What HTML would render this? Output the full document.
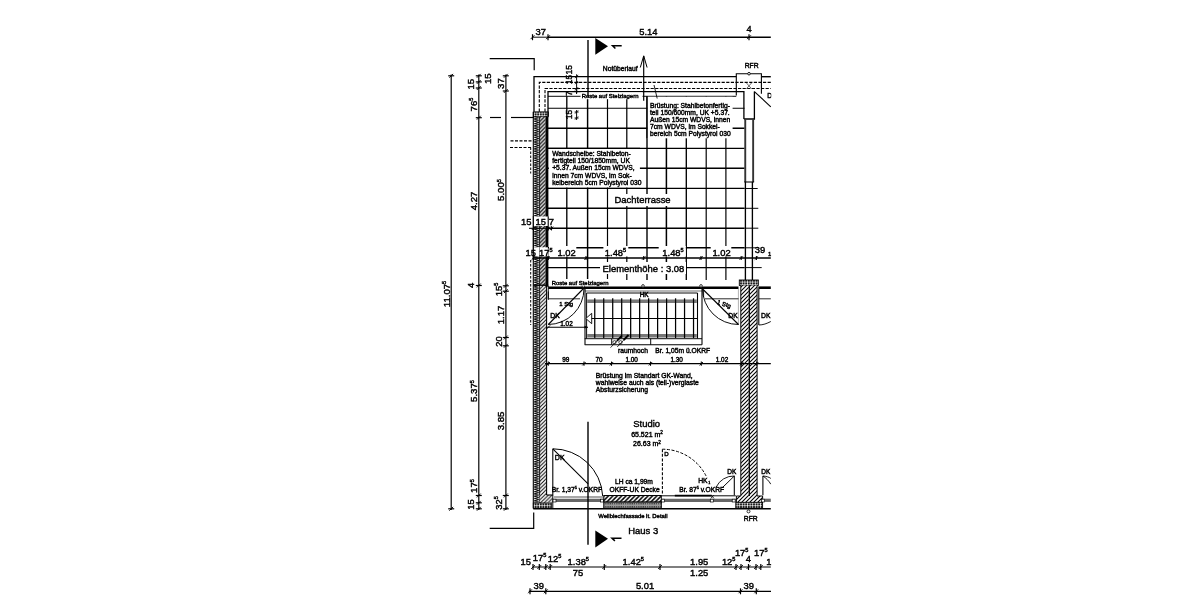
<!DOCTYPE html>
<html><head><meta charset="utf-8"><title>Grundriss</title>
<style>
html,body{margin:0;padding:0;background:#fff;}
body{width:1200px;height:600px;overflow:hidden;}
svg{display:block;font-family:"Liberation Sans",sans-serif;fill:#000;}
text{stroke:#000;stroke-width:0.42px;}
</style></head><body>
<svg width="1200" height="600" viewBox="0 0 1200 600">
<defs>
<pattern id="hat" width="3.8" height="3.8" patternUnits="userSpaceOnUse"><rect width="3.8" height="3.8" fill="#fff"/><path d="M-0.95,0.95L0.95,-0.95M0,3.8L3.8,0M2.85,4.75L4.75,2.85" stroke="#000" stroke-width="1.3"/></pattern>
<pattern id="hatL" width="3.7" height="3.7" patternUnits="userSpaceOnUse"><rect width="3.7" height="3.7" fill="#fff"/><path d="M-0.925,0.925L0.925,-0.925M0,3.7L3.7,0M2.775,4.625L4.625,2.775" stroke="#000" stroke-width="0.95"/></pattern>
<pattern id="hatB" width="4.4" height="4.4" patternUnits="userSpaceOnUse"><rect width="4.4" height="4.4" fill="#fff"/><path d="M-1.1,1.1L1.1,-1.1M0,4.4L4.4,0M3.3,5.5L5.5,3.3" stroke="#000" stroke-width="1.5"/></pattern>
<pattern id="hat2" width="4" height="4" patternUnits="userSpaceOnUse"><rect width="4" height="4" fill="#fff"/><path d="M-1,1L1,-1M0,4L4,0M3,5L5,3" stroke="#000" stroke-width="1.1"/></pattern>
<pattern id="ins" x="533.3" y="116.7" width="6.3" height="2.3" patternUnits="userSpaceOnUse"><rect width="6.3" height="2.3" fill="#fff"/><path d="M0.3,0L6,1.15L0.3,2.3" stroke="#000" stroke-width="0.86" fill="none"/></pattern>
<pattern id="xh" width="2.6" height="2.6" patternUnits="userSpaceOnUse"><rect width="2.6" height="2.6" fill="#000"/><path d="M1.3,0.05L2.55,1.3L1.3,2.55L0.05,1.3Z" fill="#fff"/></pattern>
<pattern id="corr" width="2.2" height="3.1" patternUnits="userSpaceOnUse"><rect width="2.2" height="3.1" fill="#9a9a9a"/><rect x="0.3" y="0.9" width="1.1" height="1.2" fill="#222"/></pattern>
<filter id="soft" x="0" y="0" width="100%" height="100%" filterUnits="userSpaceOnUse"><feGaussianBlur stdDeviation="0.35"/></filter>
</defs>
<rect width="1200" height="600" fill="#fff"/>
<g filter="url(#soft)">
<g>
<rect x="533.3" y="111.9" width="15" height="4.8" fill="url(#xh)" stroke="#000" stroke-width="0.9"/>
<rect x="533.3" y="116.7" width="6.3" height="386" fill="url(#ins)"/>
<rect x="539.6" y="116.7" width="6" height="169" fill="url(#hat)"/>
<rect x="539.6" y="286" width="7" height="217" fill="url(#hatL)"/>
<rect x="545.5" y="116.7" width="2.9" height="170" fill="#000"/>
<line x1="533.3" y1="111.9" x2="533.3" y2="508.3" stroke="#000" stroke-width="1.08" />
<line x1="539.6" y1="116.7" x2="539.6" y2="503" stroke="#000" stroke-width="0.864" />
<line x1="546.6" y1="286" x2="546.6" y2="495.3" stroke="#000" stroke-width="1.08" />
<line x1="548.3" y1="286" x2="548.3" y2="300" stroke="#000" stroke-width="0.864" />
<line x1="533.3" y1="285.2" x2="548.3" y2="285.2" stroke="#000" stroke-width="1.296" />
<line x1="548.3" y1="287.7" x2="738.5" y2="287.7" stroke="#000" stroke-width="2.592" />
<line x1="758.3" y1="287.7" x2="770.8" y2="287.7" stroke="#000" stroke-width="2.592" />
<circle cx="583.3" cy="285.9" r="1.3" fill="#fff" stroke="#000" stroke-width="0.8"/>
<circle cx="643" cy="285.9" r="1.3" fill="#fff" stroke="#000" stroke-width="0.8"/>
<circle cx="701" cy="285.9" r="1.3" fill="#fff" stroke="#000" stroke-width="0.8"/>
<rect x="739.3" y="280" width="19" height="5.4" fill="url(#xh)" stroke="#000" stroke-width="0.9"/>
<rect x="740.8" y="285.4" width="8" height="217" fill="url(#hat2)"/>
<rect x="749.9" y="285.4" width="7.2" height="217" fill="url(#hat2)"/>
<line x1="740.8" y1="285.4" x2="740.8" y2="496" stroke="#000" stroke-width="0.972" />
<line x1="757.1" y1="285.4" x2="757.1" y2="496" stroke="#000" stroke-width="0.972" />
<line x1="749.3" y1="285.4" x2="749.3" y2="502" stroke="#000" stroke-width="1.296" />
<line x1="738.4" y1="288.8" x2="738.4" y2="325" stroke="#888" stroke-width="0.648" />
<line x1="758.8" y1="288.8" x2="758.8" y2="325" stroke="#888" stroke-width="0.648" />
<rect x="539.6" y="495" width="13" height="7.6" fill="url(#hatL)"/>
<rect x="533.3" y="503" width="18" height="5.3" fill="url(#xh)" stroke="#000" stroke-width="0.9"/>
<line x1="546.6" y1="495" x2="552.8" y2="495" stroke="#000" stroke-width="1.08" />
<line x1="552.8" y1="495" x2="552.8" y2="508.5" stroke="#000" stroke-width="0.972" />
<line x1="554" y1="497" x2="603" y2="497" stroke="#333" stroke-width="0.864" />
<line x1="553" y1="500.3" x2="604" y2="500.3" stroke="#666" stroke-width="3.348" />
<rect x="553" y="499.2" width="3" height="2.8" fill="#fff" stroke="#000" stroke-width="0.7"/>
<rect x="600.4" y="499.2" width="3" height="2.8" fill="#fff" stroke="#000" stroke-width="0.7"/>
<rect x="603.8" y="495.5" width="57.5" height="6.6" fill="url(#hatB)" stroke="#000" stroke-width="1"/>
<rect x="603.8" y="502.1" width="57.5" height="6.2" fill="url(#corr)" stroke="#000" stroke-width="1"/>
<line x1="661.5" y1="495.8" x2="735.8" y2="495.8" stroke="#000" stroke-width="0.972" />
<line x1="674.8" y1="495.6" x2="711.7" y2="495.6" stroke="#000" stroke-width="1.728" />
<line x1="661.5" y1="500.3" x2="735.8" y2="500.3" stroke="#666" stroke-width="3.24" />
<rect x="661.5" y="499.2" width="3" height="2.8" fill="#fff" stroke="#000" stroke-width="0.7"/>
<rect x="710.3" y="499.2" width="3" height="2.8" fill="#fff" stroke="#000" stroke-width="0.7"/>
<rect x="732.2" y="499.2" width="3" height="2.8" fill="#fff" stroke="#000" stroke-width="0.7"/>
<path d="M710.8,498.3L714.0,495.09999999999997" stroke="#000" stroke-width="0.8" fill="none"/>
<path d="M710.8,495.1L714,498.3" stroke="#000" stroke-width="0.8"/>
<rect x="736.4" y="496" width="26.2" height="6.3" fill="url(#hat2)"/>
<rect x="735.8" y="502.3" width="26.8" height="6" fill="url(#xh)" stroke="#000" stroke-width="0.9"/>
<line x1="736.4" y1="496" x2="736.4" y2="502.3" stroke="#000" stroke-width="0.972" />
<line x1="762.6" y1="496" x2="762.6" y2="502.3" stroke="#000" stroke-width="0.972" />
<line x1="736.4" y1="496" x2="740.8" y2="496" stroke="#000" stroke-width="0.972" />
<line x1="757.1" y1="496" x2="762.6" y2="496" stroke="#000" stroke-width="0.972" />
<line x1="762.5" y1="500.3" x2="770.8" y2="500.3" stroke="#666" stroke-width="3.24" />
<rect x="761.5" y="499.2" width="3" height="2.8" fill="#fff" stroke="#000" stroke-width="0.7"/>
<line x1="533.3" y1="508.8" x2="770.8" y2="508.8" stroke="#000" stroke-width="1.404" />
<circle cx="748.5" cy="511.4" r="1.5" fill="#fff" stroke="#000" stroke-width="0.8"/>
<text x="750.8" y="521" font-size="6.8" text-anchor="middle" font-weight="normal" >RFR</text>
<text x="598.3" y="517.8" font-size="5.92" text-anchor="start" font-weight="normal" >Wellblechfassade lt. Detail</text>
<text x="628.3" y="534.3" font-size="9.45" text-anchor="start" font-weight="normal" >Haus 3</text>
<line x1="585" y1="291" x2="702" y2="291" stroke="#555" stroke-width="0.864" />
<line x1="586.5" y1="293" x2="697.5" y2="293" stroke="#000" stroke-width="0.972" />
<line x1="585" y1="289" x2="585" y2="344.8" stroke="#000" stroke-width="1.08" />
<line x1="586.6" y1="293" x2="586.6" y2="338.5" stroke="#000" stroke-width="0.972" />
<line x1="587.2" y1="301.2" x2="696.8" y2="301.2" stroke="#777" stroke-width="3.456" />
<line x1="587.2" y1="335.8" x2="696.8" y2="335.8" stroke="#777" stroke-width="3.456" />
<line x1="587" y1="318.5" x2="697.5" y2="318.5" stroke="#000" stroke-width="1.08" />
<line x1="594.75" y1="298.3" x2="594.75" y2="338" stroke="#000" stroke-width="1.242" />
<line x1="603.73" y1="298.3" x2="603.73" y2="338" stroke="#000" stroke-width="1.242" />
<line x1="612.71" y1="298.3" x2="612.71" y2="338" stroke="#000" stroke-width="1.242" />
<line x1="621.69" y1="298.3" x2="621.69" y2="338" stroke="#000" stroke-width="1.242" />
<line x1="630.67" y1="298.3" x2="630.67" y2="338" stroke="#000" stroke-width="1.242" />
<line x1="639.65" y1="298.3" x2="639.65" y2="338" stroke="#000" stroke-width="1.242" />
<line x1="648.63" y1="298.3" x2="648.63" y2="338" stroke="#000" stroke-width="1.242" />
<line x1="657.61" y1="298.3" x2="657.61" y2="338" stroke="#000" stroke-width="1.242" />
<line x1="666.59" y1="298.3" x2="666.59" y2="338" stroke="#000" stroke-width="1.242" />
<line x1="675.57" y1="298.3" x2="675.57" y2="338" stroke="#000" stroke-width="1.242" />
<line x1="684.55" y1="298.3" x2="684.55" y2="338" stroke="#000" stroke-width="1.242" />
<line x1="693.53" y1="298.3" x2="693.53" y2="338" stroke="#000" stroke-width="1.242" />
<line x1="697.5" y1="293" x2="697.5" y2="338.5" stroke="#000" stroke-width="1.08" />
<line x1="702" y1="289" x2="702" y2="344.8" stroke="#000" stroke-width="1.08" />
<line x1="584.7" y1="344.8" x2="702" y2="344.8" stroke="#000" stroke-width="1.08" />
<line x1="584.7" y1="338.7" x2="702" y2="338.7" stroke="#000" stroke-width="0.972" />
<line x1="611.7" y1="338.7" x2="611.7" y2="344.8" stroke="#000" stroke-width="0.972" />
<line x1="650.7" y1="338.7" x2="650.7" y2="344.8" stroke="#000" stroke-width="0.972" />
<path d="M585.8,318.5L591.7,313.3V323.7Z" fill="#fff" stroke="#000" stroke-width="0.9"/>
<circle cx="614.5" cy="342.3" r="1.7" fill="#fff" stroke="#000" stroke-width="0.7"/>
<circle cx="620.5" cy="342.3" r="1.7" fill="#fff" stroke="#000" stroke-width="0.7"/>
<line x1="610.5" y1="347.7" x2="621.7" y2="335.8" stroke="#000" stroke-width="0.756" />
<line x1="617.2" y1="347" x2="628.5" y2="335" stroke="#000" stroke-width="0.756" />
<line x1="617" y1="340.8" x2="621.7" y2="335.8" stroke="#000" stroke-width="1.836" />
<line x1="623.7" y1="340" x2="628.5" y2="335" stroke="#000" stroke-width="1.836" />
<text x="644.2" y="296.8" font-size="6.5" text-anchor="middle" font-weight="normal" >HK</text>
<line x1="548.3" y1="291.5" x2="548.3" y2="299" stroke="#000" stroke-width="0.972" />
<line x1="548.3" y1="298.8" x2="580" y2="298.8" stroke="#222" stroke-width="0.972" />
<line x1="583.5" y1="288.5" x2="548.3" y2="324.5" stroke="#000" stroke-width="1.08" />
<path d="M584,288.5A36,36 0 0 1 548.2,324.5" stroke="#000" stroke-width="0.95" fill="none"/>
<text x="566.2" y="306" font-size="6" text-anchor="middle" font-weight="normal" >1 Stg</text>
<text x="555" y="318" font-size="6.8" text-anchor="middle" font-weight="normal" >DK</text>
<text x="566.5" y="325.6" font-size="6.4" text-anchor="middle" font-weight="normal" >1.02</text>
<line x1="546" y1="327.2" x2="588" y2="327.2" stroke="#000" stroke-width="1.08" />
<path d="M546.5,329.0L550.0999999999999,325.4" stroke="#000" stroke-width="0.95" fill="none"/>
<path d="M588,327.2L584.5,325.8V328.6Z" fill="#000"/>
<line x1="705" y1="298.8" x2="738.5" y2="298.8" stroke="#222" stroke-width="0.972" />
<line x1="703.6" y1="290" x2="703.6" y2="297" stroke="#000" stroke-width="0.864" />
<line x1="702.6" y1="289" x2="738.5" y2="324.5" stroke="#000" stroke-width="1.08" />
<path d="M702.5,288.5A36,36 0 0 0 738.5,324.5" stroke="#000" stroke-width="0.95" fill="none"/>
<text x="723.5" y="306" font-size="6" text-anchor="middle" font-weight="normal" transform="rotate(18 723.5 306)" >1 Stg</text>
<text x="733" y="318" font-size="6.8" text-anchor="middle" font-weight="normal" >DK</text>
<line x1="758.8" y1="289" x2="758.8" y2="325" stroke="#000" stroke-width="0.972" />
<line x1="758.8" y1="298.8" x2="770.8" y2="298.8" stroke="#222" stroke-width="0.972" />
<path d="M758.8,325C763,325 767,323.5 770.8,321.5" stroke="#000" stroke-width="0.9" fill="none"/>
<text x="765.8" y="318" font-size="6.8" text-anchor="middle" font-weight="normal" >DK</text>
<line x1="545" y1="363.7" x2="770.8" y2="363.7" stroke="#000" stroke-width="1.242" />
<path d="M546.5999999999999,365.4L550.0,362.0" stroke="#000" stroke-width="0.9" fill="none"/>
<line x1="548.3" y1="361.59999999999997" x2="548.3" y2="365.8" stroke="#000" stroke-width="1.08" />
<path d="M582.3,365.4L585.7,362.0" stroke="#000" stroke-width="0.9" fill="none"/>
<line x1="584" y1="361.59999999999997" x2="584" y2="365.8" stroke="#000" stroke-width="1.08" />
<path d="M609.8,365.4L613.2,362.0" stroke="#000" stroke-width="0.9" fill="none"/>
<line x1="611.5" y1="361.59999999999997" x2="611.5" y2="365.8" stroke="#000" stroke-width="1.08" />
<path d="M648.8,365.4L652.2,362.0" stroke="#000" stroke-width="0.9" fill="none"/>
<line x1="650.5" y1="361.59999999999997" x2="650.5" y2="365.8" stroke="#000" stroke-width="1.08" />
<path d="M699.5999999999999,365.4L703.0,362.0" stroke="#000" stroke-width="0.9" fill="none"/>
<line x1="701.3" y1="361.59999999999997" x2="701.3" y2="365.8" stroke="#000" stroke-width="1.08" />
<path d="M740.0,365.4L743.4000000000001,362.0" stroke="#000" stroke-width="0.9" fill="none"/>
<line x1="741.7" y1="361.59999999999997" x2="741.7" y2="365.8" stroke="#000" stroke-width="1.08" />
<path d="M755.0,365.4L758.4000000000001,362.0" stroke="#000" stroke-width="0.9" fill="none"/>
<line x1="756.7" y1="361.59999999999997" x2="756.7" y2="365.8" stroke="#000" stroke-width="1.08" />
<text x="565.8" y="361.7" font-size="6.4" text-anchor="middle" font-weight="normal" >99</text>
<text x="599" y="361.7" font-size="6.4" text-anchor="middle" font-weight="normal" >70</text>
<text x="631.7" y="361.7" font-size="6.4" text-anchor="middle" font-weight="normal" >1.00</text>
<text x="676.7" y="361.7" font-size="6.4" text-anchor="middle" font-weight="normal" >1.30</text>
<text x="722" y="361.7" font-size="6.4" text-anchor="middle" font-weight="normal" >1.02</text>
<text x="618" y="353" font-size="6.72" text-anchor="start" font-weight="normal" >raumhoch</text>
<text x="655.3" y="353" font-size="6.72" text-anchor="start" font-weight="normal" >Br. 1,05m ü.OKRF</text>
<text x="595.8" y="378.0" font-size="6.77" text-anchor="start" font-weight="normal" >Brüstung im Standart GK-Wand,</text>
<text x="595.8" y="385.2" font-size="6.77" text-anchor="start" font-weight="normal" >wahlweise auch als (teil-)verglaste</text>
<text x="595.8" y="392.4" font-size="6.77" text-anchor="start" font-weight="normal" >Absturzsicherung</text>
<text x="646.7" y="427.2" font-size="9.45" text-anchor="middle" font-weight="normal" >Studio</text>
<text x="647" y="436.8" font-size="7" text-anchor="middle" font-weight="normal" >65.521 m<tspan dy="-2.6" font-size="4.6">2</tspan></text>
<text x="647" y="446.3" font-size="7" text-anchor="middle" font-weight="normal" >26.63 m<tspan dy="-2.6" font-size="4.6">2</tspan></text>
<line x1="552.8" y1="448.8" x2="552.8" y2="495.3" stroke="#000" stroke-width="1.08" />
<line x1="552.8" y1="448.8" x2="588.1" y2="483.8" stroke="#000" stroke-width="1.08" />
<path d="M552.8,448.8A50,50 0 0 1 602.7,496" stroke="#000" stroke-width="1" fill="none"/>
<text x="559.7" y="460" font-size="7" text-anchor="middle" font-weight="normal" >DK</text>
<text x="551.7" y="491.5" font-size="6.7" text-anchor="start" font-weight="normal" >Br. 1,37<tspan dy="-2.4" font-size="4">5</tspan><tspan dy="2.4"> v.OKRF</tspan></text>
<text x="615" y="484" font-size="6.7" text-anchor="start" font-weight="normal" >LH ca 1,99m</text>
<text x="609.5" y="491.8" font-size="6.7" text-anchor="start" font-weight="normal" >OKFF-UK Decke</text>
<line x1="662.4" y1="449.2" x2="662.4" y2="495.3" stroke="#000" stroke-width="1.08" stroke-dasharray="3 1.6"/>
<path d="M662.4,449.2A49,49 0 0 1 706.6,477" stroke="#000" stroke-width="1" fill="none" stroke-dasharray="3 1.6"/>
<text x="664.2" y="456.4" font-size="6.1" text-anchor="start" font-weight="normal" >D</text>
<text x="698.2" y="482.5" font-size="6.8" text-anchor="start" font-weight="normal" >HK</text>
<text x="708.3" y="484.3" font-size="3.8" text-anchor="start" font-weight="normal" >1</text>
<text x="679.2" y="491.8" font-size="6.7" text-anchor="start" font-weight="normal" >Br. 87<tspan dy="-2.4" font-size="4">5</tspan><tspan dy="2.4"> v.OKRF</tspan></text>
<line x1="734.3" y1="476" x2="734.3" y2="495.3" stroke="#000" stroke-width="1.08" />
<line x1="734.3" y1="476" x2="722" y2="488" stroke="#000" stroke-width="0.972" />
<path d="M734.3,476A19.5,19.5 0 0 0 716.2,487" stroke="#000" stroke-width="0.9" fill="none"/>
<text x="731.8" y="473.8" font-size="6.5" text-anchor="middle" font-weight="normal" >DK</text>
<line x1="762.9" y1="476" x2="762.9" y2="495.3" stroke="#000" stroke-width="1.08" />
<path d="M762.9,476C766,476.2 769,477 770.8,478.4" stroke="#000" stroke-width="0.9" fill="none"/>
<path d="M762.9,476C766,478 769,481 770.8,484.2" stroke="#000" stroke-width="0.9" fill="none"/>
<text x="765.8" y="474" font-size="6.5" text-anchor="middle" font-weight="normal" >DK</text>
</g>
<g>
<line x1="451.2" y1="74.5" x2="451.2" y2="510" stroke="#000" stroke-width="1.188" />
<path d="M449.3,77.7L453.09999999999997,73.89999999999999" stroke="#000" stroke-width="0.95" fill="none"/>
<line x1="448.2" y1="75.8" x2="454.2" y2="75.8" stroke="#000" stroke-width="1.188" />
<path d="M449.3,510.7L453.09999999999997,506.90000000000003" stroke="#000" stroke-width="0.95" fill="none"/>
<line x1="448.2" y1="508.8" x2="454.2" y2="508.8" stroke="#000" stroke-width="1.188" />
<text x="449.59999999999997" y="294" font-size="9.6" text-anchor="middle" font-weight="normal" transform="rotate(-90 449.59999999999997 294)" >11.07<tspan dy="-3.6" font-size="5.6">5</tspan></text>
<line x1="478.8" y1="74.5" x2="478.8" y2="510" stroke="#000" stroke-width="1.188" />
<path d="M476.90000000000003,77.7L480.7,73.89999999999999" stroke="#000" stroke-width="0.95" fill="none"/>
<line x1="475.8" y1="75.8" x2="481.8" y2="75.8" stroke="#000" stroke-width="1.188" />
<path d="M476.90000000000003,83.80000000000001L480.7,80.0" stroke="#000" stroke-width="0.95" fill="none"/>
<line x1="475.8" y1="81.9" x2="481.8" y2="81.9" stroke="#000" stroke-width="1.188" />
<path d="M476.90000000000003,89.9L480.7,86.1" stroke="#000" stroke-width="0.95" fill="none"/>
<line x1="475.8" y1="88" x2="481.8" y2="88" stroke="#000" stroke-width="1.188" />
<path d="M476.90000000000003,119.60000000000001L480.7,115.8" stroke="#000" stroke-width="0.95" fill="none"/>
<line x1="475.8" y1="117.7" x2="481.8" y2="117.7" stroke="#000" stroke-width="1.188" />
<path d="M476.90000000000003,287.4L480.7,283.6" stroke="#000" stroke-width="0.95" fill="none"/>
<line x1="475.8" y1="285.5" x2="481.8" y2="285.5" stroke="#000" stroke-width="1.188" />
<path d="M476.90000000000003,497.4L480.7,493.6" stroke="#000" stroke-width="0.95" fill="none"/>
<line x1="475.8" y1="495.5" x2="481.8" y2="495.5" stroke="#000" stroke-width="1.188" />
<path d="M476.90000000000003,504.7L480.7,500.90000000000003" stroke="#000" stroke-width="0.95" fill="none"/>
<line x1="475.8" y1="502.8" x2="481.8" y2="502.8" stroke="#000" stroke-width="1.188" />
<path d="M476.90000000000003,510.7L480.7,506.90000000000003" stroke="#000" stroke-width="0.95" fill="none"/>
<line x1="475.8" y1="508.8" x2="481.8" y2="508.8" stroke="#000" stroke-width="1.188" />
<text x="474" y="84.2" font-size="9.6" text-anchor="middle" font-weight="normal" transform="rotate(-90 474 84.2)" >15</text>
<text x="490.8" y="78.7" font-size="9.6" text-anchor="middle" font-weight="normal" transform="rotate(-90 490.8 78.7)" >15</text>
<text x="476.8" y="104.5" font-size="9.6" text-anchor="middle" font-weight="normal" transform="rotate(-90 476.8 104.5)" >76<tspan dy="-3.6" font-size="5.6">5</tspan></text>
<text x="477.2" y="201" font-size="9.6" text-anchor="middle" font-weight="normal" transform="rotate(-90 477.2 201)" >4.27</text>
<text x="474" y="285.5" font-size="9.4" text-anchor="middle" font-weight="normal" transform="rotate(-90 474 285.5)" >4</text>
<text x="477.2" y="391" font-size="9.6" text-anchor="middle" font-weight="normal" transform="rotate(-90 477.2 391)" >5.37<tspan dy="-3.6" font-size="5.6">5</tspan></text>
<text x="477.2" y="486" font-size="9.6" text-anchor="middle" font-weight="normal" transform="rotate(-90 477.2 486)" >17<tspan dy="-3.6" font-size="5.6">5</tspan></text>
<text x="474" y="504.5" font-size="9.4" text-anchor="middle" font-weight="normal" transform="rotate(-90 474 504.5)" >15</text>
<line x1="505.9" y1="74.5" x2="505.9" y2="510" stroke="#000" stroke-width="1.188" />
<path d="M503.90000000000003,77.7L507.7,73.89999999999999" stroke="#000" stroke-width="0.95" fill="none"/>
<line x1="502.8" y1="75.8" x2="508.8" y2="75.8" stroke="#000" stroke-width="1.188" />
<path d="M503.90000000000003,92.9L507.7,89.1" stroke="#000" stroke-width="0.95" fill="none"/>
<line x1="502.8" y1="91" x2="508.8" y2="91" stroke="#000" stroke-width="1.188" />
<path d="M503.90000000000003,287.7L507.7,283.90000000000003" stroke="#000" stroke-width="0.95" fill="none"/>
<line x1="502.8" y1="285.8" x2="508.8" y2="285.8" stroke="#000" stroke-width="1.188" />
<path d="M503.90000000000003,293.09999999999997L507.7,289.3" stroke="#000" stroke-width="0.95" fill="none"/>
<line x1="502.8" y1="291.2" x2="508.8" y2="291.2" stroke="#000" stroke-width="1.188" />
<path d="M503.90000000000003,339.4L507.7,335.6" stroke="#000" stroke-width="0.95" fill="none"/>
<line x1="502.8" y1="337.5" x2="508.8" y2="337.5" stroke="#000" stroke-width="1.188" />
<path d="M503.90000000000003,347.7L507.7,343.90000000000003" stroke="#000" stroke-width="0.95" fill="none"/>
<line x1="502.8" y1="345.8" x2="508.8" y2="345.8" stroke="#000" stroke-width="1.188" />
<path d="M503.90000000000003,497.4L507.7,493.6" stroke="#000" stroke-width="0.95" fill="none"/>
<line x1="502.8" y1="495.5" x2="508.8" y2="495.5" stroke="#000" stroke-width="1.188" />
<path d="M503.90000000000003,510.7L507.7,506.90000000000003" stroke="#000" stroke-width="0.95" fill="none"/>
<line x1="502.8" y1="508.8" x2="508.8" y2="508.8" stroke="#000" stroke-width="1.188" />
<text x="504.3" y="83.6" font-size="9.6" text-anchor="middle" font-weight="normal" transform="rotate(-90 504.3 83.6)" >37</text>
<text x="504.2" y="190" font-size="9.6" text-anchor="middle" font-weight="normal" transform="rotate(-90 504.2 190)" >5.00<tspan dy="-3.6" font-size="5.6">5</tspan></text>
<text x="501.5" y="289.5" font-size="9.4" text-anchor="middle" font-weight="normal" transform="rotate(-90 501.5 289.5)" >15<tspan dy="-3.6" font-size="5.6">5</tspan></text>
<text x="504.2" y="315" font-size="9.6" text-anchor="middle" font-weight="normal" transform="rotate(-90 504.2 315)" >1.17</text>
<text x="501.5" y="341.5" font-size="9.4" text-anchor="middle" font-weight="normal" transform="rotate(-90 501.5 341.5)" >20</text>
<text x="504.2" y="421" font-size="9.6" text-anchor="middle" font-weight="normal" transform="rotate(-90 504.2 421)" >3.85</text>
<text x="501.5" y="503" font-size="9.4" text-anchor="middle" font-weight="normal" transform="rotate(-90 501.5 503)" >32<tspan dy="-3.6" font-size="5.6">5</tspan></text>
<line x1="532.5" y1="37.2" x2="548" y2="37.2" stroke="#000" stroke-width="0.972" />
<line x1="548" y1="37.2" x2="770.8" y2="37.2" stroke="#000" stroke-width="1.404" />
<path d="M530.6,39.1L534.4,35.300000000000004" stroke="#000" stroke-width="0.95" fill="none"/>
<line x1="532.5" y1="34.2" x2="532.5" y2="40.2" stroke="#000" stroke-width="1.188" />
<path d="M546.1,39.1L549.9,35.300000000000004" stroke="#000" stroke-width="0.95" fill="none"/>
<line x1="548" y1="34.2" x2="548" y2="40.2" stroke="#000" stroke-width="1.188" />
<path d="M747.1,39.1L750.9,35.300000000000004" stroke="#000" stroke-width="0.95" fill="none"/>
<line x1="749" y1="34.2" x2="749" y2="40.2" stroke="#000" stroke-width="1.188" />
<text x="540.8" y="35.3" font-size="9.4" text-anchor="middle" font-weight="normal" >37</text>
<text x="648.3" y="35.3" font-size="9.4" text-anchor="middle" font-weight="normal" >5.14</text>
<text x="749" y="32.2" font-size="9.4" text-anchor="middle" font-weight="normal" >4</text>
<line x1="533" y1="567" x2="770.8" y2="567" stroke="#000" stroke-width="1.188" />
<path d="M531.1,568.9L534.9,565.1" stroke="#000" stroke-width="0.95" fill="none"/>
<line x1="533" y1="564.0" x2="533" y2="570.0" stroke="#000" stroke-width="1.188" />
<path d="M537.4,568.9L541.1999999999999,565.1" stroke="#000" stroke-width="0.95" fill="none"/>
<line x1="539.3" y1="564.0" x2="539.3" y2="570.0" stroke="#000" stroke-width="1.188" />
<path d="M543.9,568.9L547.6999999999999,565.1" stroke="#000" stroke-width="0.95" fill="none"/>
<line x1="545.8" y1="564.0" x2="545.8" y2="570.0" stroke="#000" stroke-width="1.188" />
<path d="M548.3000000000001,568.9L552.1,565.1" stroke="#000" stroke-width="0.95" fill="none"/>
<line x1="550.2" y1="564.0" x2="550.2" y2="570.0" stroke="#000" stroke-width="1.188" />
<path d="M602.4,568.9L606.1999999999999,565.1" stroke="#000" stroke-width="0.95" fill="none"/>
<line x1="604.3" y1="564.0" x2="604.3" y2="570.0" stroke="#000" stroke-width="1.188" />
<path d="M658.1,568.9L661.9,565.1" stroke="#000" stroke-width="0.95" fill="none"/>
<line x1="660" y1="564.0" x2="660" y2="570.0" stroke="#000" stroke-width="1.188" />
<path d="M734.1,568.9L737.9,565.1" stroke="#000" stroke-width="0.95" fill="none"/>
<line x1="736" y1="564.0" x2="736" y2="570.0" stroke="#000" stroke-width="1.188" />
<path d="M739.1,568.9L742.9,565.1" stroke="#000" stroke-width="0.95" fill="none"/>
<line x1="741" y1="564.0" x2="741" y2="570.0" stroke="#000" stroke-width="1.188" />
<path d="M746.6,568.9L750.4,565.1" stroke="#000" stroke-width="0.95" fill="none"/>
<line x1="748.5" y1="564.0" x2="748.5" y2="570.0" stroke="#000" stroke-width="1.188" />
<path d="M754.1,568.9L757.9,565.1" stroke="#000" stroke-width="0.95" fill="none"/>
<line x1="756" y1="564.0" x2="756" y2="570.0" stroke="#000" stroke-width="1.188" />
<path d="M758.9,568.9L762.6999999999999,565.1" stroke="#000" stroke-width="0.95" fill="none"/>
<line x1="760.8" y1="564.0" x2="760.8" y2="570.0" stroke="#000" stroke-width="1.188" />
<text x="525.8" y="565" font-size="9.4" text-anchor="middle" font-weight="normal" >15</text>
<text x="539.5" y="561" font-size="9.4" text-anchor="middle" font-weight="normal" >17<tspan dy="-3.6" font-size="5.6">5</tspan></text>
<text x="554.5" y="562" font-size="9.4" text-anchor="middle" font-weight="normal" >12<tspan dy="-3.6" font-size="5.6">5</tspan></text>
<text x="578.3" y="565" font-size="9.4" text-anchor="middle" font-weight="normal" >1.38<tspan dy="-3.6" font-size="5.6">5</tspan></text>
<text x="578" y="575.5" font-size="9.4" text-anchor="middle" font-weight="normal" >75</text>
<text x="633.3" y="564.5" font-size="9.4" text-anchor="middle" font-weight="normal" >1.42<tspan dy="-3.6" font-size="5.6">5</tspan></text>
<text x="699.2" y="564.5" font-size="9.4" text-anchor="middle" font-weight="normal" >1.95</text>
<text x="699.2" y="575.5" font-size="9.4" text-anchor="middle" font-weight="normal" >1.25</text>
<text x="728.7" y="564.5" font-size="9.4" text-anchor="middle" font-weight="normal" >12<tspan dy="-3.6" font-size="5.6">5</tspan></text>
<text x="741.7" y="555.5" font-size="9.4" text-anchor="middle" font-weight="normal" >17<tspan dy="-3.6" font-size="5.6">5</tspan></text>
<text x="748.3" y="562" font-size="9.4" text-anchor="middle" font-weight="normal" >4</text>
<text x="760.8" y="555.5" font-size="9.4" text-anchor="middle" font-weight="normal" >17<tspan dy="-3.6" font-size="5.6">5</tspan></text>
<text x="766.3" y="564.5" font-size="9.4" text-anchor="start" font-weight="normal" >12</text>
<line x1="528.8" y1="591.3" x2="771" y2="591.3" stroke="#000" stroke-width="1.188" />
<path d="M528.1,593.1999999999999L531.9,589.4" stroke="#000" stroke-width="0.95" fill="none"/>
<line x1="530" y1="588.3" x2="530" y2="594.3" stroke="#000" stroke-width="1.188" />
<path d="M543.9,593.1999999999999L547.6999999999999,589.4" stroke="#000" stroke-width="0.95" fill="none"/>
<line x1="545.8" y1="588.3" x2="545.8" y2="594.3" stroke="#000" stroke-width="1.188" />
<path d="M738.6,593.1999999999999L742.4,589.4" stroke="#000" stroke-width="0.95" fill="none"/>
<line x1="740.5" y1="588.3" x2="740.5" y2="594.3" stroke="#000" stroke-width="1.188" />
<path d="M754.4,593.1999999999999L758.1999999999999,589.4" stroke="#000" stroke-width="0.95" fill="none"/>
<line x1="756.3" y1="588.3" x2="756.3" y2="594.3" stroke="#000" stroke-width="1.188" />
<text x="538.8" y="589.2" font-size="9.4" text-anchor="middle" font-weight="normal" >39</text>
<text x="645" y="589.2" font-size="9.4" text-anchor="middle" font-weight="normal" >5.01</text>
<text x="748.8" y="589.2" font-size="9.4" text-anchor="middle" font-weight="normal" >39</text>
<path d="M489.7,58.7H534.2V70.3" stroke="#000" stroke-width="1.2" fill="none"/>
<path d="M489.7,528.3H533.7V512.5" stroke="#000" stroke-width="1.2" fill="none"/>
<line x1="490" y1="117.5" x2="501" y2="117.5" stroke="#000" stroke-width="1.188" />
<line x1="511" y1="117.5" x2="534" y2="117.5" stroke="#000" stroke-width="1.188" />
<line x1="510.5" y1="140.8" x2="534" y2="140.8" stroke="#000" stroke-width="1.296" stroke-dasharray="3 1.5"/>
<line x1="510" y1="147.5" x2="531" y2="147.5" stroke="#000" stroke-width="1.188" stroke-dasharray="3 1.5"/>
<line x1="530.7" y1="147.5" x2="530.7" y2="173.5" stroke="#000" stroke-width="0.972" stroke-dasharray="2.5 1.5"/>
<line x1="530.7" y1="260" x2="530.7" y2="325" stroke="#000" stroke-width="0.972" stroke-dasharray="2.5 1.5"/>
<line x1="566.8" y1="96.3" x2="566.8" y2="280" stroke="#000" stroke-width="1.35" />
<line x1="587.6" y1="96.3" x2="587.6" y2="280" stroke="#000" stroke-width="1.458" />
<line x1="607.5" y1="96.3" x2="607.5" y2="280" stroke="#000" stroke-width="1.188" />
<line x1="626.8" y1="96.3" x2="626.8" y2="280" stroke="#000" stroke-width="1.242" />
<line x1="647" y1="96.3" x2="647" y2="280" stroke="#000" stroke-width="1.404" />
<line x1="666.4" y1="96.3" x2="666.4" y2="280" stroke="#000" stroke-width="1.512" />
<line x1="686.3" y1="96.3" x2="686.3" y2="280" stroke="#000" stroke-width="1.35" />
<line x1="706.2" y1="96.3" x2="706.2" y2="280" stroke="#000" stroke-width="1.188" />
<line x1="725.9" y1="96.3" x2="725.9" y2="280" stroke="#000" stroke-width="1.188" />
<line x1="548" y1="108.3" x2="744.5" y2="108.3" stroke="#000" stroke-width="1.08" />
<line x1="548" y1="128.3" x2="744.5" y2="128.3" stroke="#000" stroke-width="1.566" />
<line x1="548" y1="148.3" x2="744.5" y2="148.3" stroke="#000" stroke-width="1.296" />
<line x1="548" y1="168.3" x2="744.5" y2="168.3" stroke="#000" stroke-width="1.566" />
<line x1="548" y1="188.3" x2="744.5" y2="188.3" stroke="#000" stroke-width="1.35" />
<line x1="548" y1="208.3" x2="744.5" y2="208.3" stroke="#000" stroke-width="1.566" />
<line x1="548" y1="228.2" x2="744.5" y2="228.2" stroke="#000" stroke-width="1.512" />
<line x1="548" y1="247.8" x2="744.5" y2="247.8" stroke="#000" stroke-width="1.512" />
<line x1="548" y1="267.6" x2="744.5" y2="267.6" stroke="#000" stroke-width="1.296" />
<line x1="744.5" y1="188.5" x2="757.7" y2="188.5" stroke="#000" stroke-width="0.972" />
<line x1="744.5" y1="208.3" x2="758.3" y2="208.3" stroke="#000" stroke-width="0.972" />
<line x1="744.5" y1="228.2" x2="758.3" y2="228.2" stroke="#000" stroke-width="0.972" />
<line x1="744.5" y1="267.6" x2="761.7" y2="267.6" stroke="#000" stroke-width="0.972" />
<line x1="744.5" y1="247.8" x2="758.3" y2="247.8" stroke="#000" stroke-width="0.972" />
<path d="M534,111.7V76.7H736.3" stroke="#000" stroke-width="1.3" fill="none"/>
<line x1="761.4" y1="76.7" x2="770.8" y2="76.7" stroke="#000" stroke-width="1.404" />
<path d="M539.3,111.7V82.4H770.8" stroke="#000" stroke-width="1.1" fill="none" stroke-dasharray="3.2 1.4"/>
<path d="M545,111.7V88.5H770.8" stroke="#000" stroke-width="1.1" fill="none" stroke-dasharray="3.2 1.4"/>
<path d="M548,116V91.6H743.9V119" stroke="#000" stroke-width="1.3" fill="none"/>
<line x1="548" y1="96.3" x2="736.3" y2="96.3" stroke="#000" stroke-width="0.972" />
<path d="M736.3,95.5V73.7H761.4V93.8" stroke="#000" stroke-width="1.1" fill="none"/>
<circle cx="749" cy="73.7" r="1.3" fill="#fff" stroke="#000" stroke-width="0.9"/>
<path d="M746.4,82.9L751.6,88.8M751.6,82.9L746.4,88.8" stroke="#444" stroke-width="0.8"/>
<text x="751.7" y="68.3" font-size="6.8" text-anchor="middle" font-weight="normal" >RFR</text>
<path d="M754.4,91.6V119H743.9" stroke="#000" stroke-width="1.3" fill="none"/>
<line x1="754.4" y1="91.6" x2="770.8" y2="106.8" stroke="#000" stroke-width="1.08" />
<text x="767.3" y="98.2" font-size="6.6" text-anchor="start" font-weight="normal" >D</text>
<rect x="744.3" y="119" width="1.9" height="63" fill="#333"/>
<rect x="752.2" y="119" width="1.9" height="63" fill="#333"/>
<line x1="744.3" y1="182" x2="754.1" y2="182" stroke="#000" stroke-width="1.08" />
<line x1="745.4" y1="182" x2="745.4" y2="280" stroke="#000" stroke-width="1.35" />
<line x1="752.4" y1="182" x2="752.4" y2="280" stroke="#000" stroke-width="1.35" />
<rect x="580.5" y="92.4" width="62" height="6.8" fill="#fff"/>
<rect x="647.6" y="96.8" width="85" height="41.5" fill="#fff"/>
<line x1="647" y1="96.3" x2="647" y2="138.3" stroke="#000" stroke-width="1.242" />
<rect x="548.9" y="149" width="91" height="38.5" fill="#fff"/>
<line x1="548" y1="148.3" x2="640" y2="148.3" stroke="#000" stroke-width="1.242" />
<line x1="548" y1="188.3" x2="640" y2="188.3" stroke="#000" stroke-width="1.242" />
<rect x="612" y="194" width="62" height="12" fill="#fff"/>
<rect x="549" y="246" width="27.3" height="10.5" fill="#fff"/>
<rect x="603.4" y="246" width="24.9" height="10.5" fill="#fff"/>
<rect x="658.7" y="246" width="27.1" height="10.5" fill="#fff"/>
<rect x="710.7" y="246" width="20.6" height="10.5" fill="#fff"/>
<rect x="600" y="262" width="86" height="12" fill="#fff"/>
<rect x="550" y="279" width="61" height="6.6" fill="#fff"/>
<rect x="533.9" y="216.5" width="14" height="9.5" fill="#fff"/>
<rect x="533.9" y="247.3" width="14" height="9" fill="#fff"/>
<line x1="533.3" y1="216" x2="533.3" y2="257" stroke="#000" stroke-width="0.864" />
<line x1="548.2" y1="216.5" x2="548.2" y2="226" stroke="#000" stroke-width="0.864" />
<line x1="539.5" y1="247.3" x2="539.5" y2="256.3" stroke="#555" stroke-width="0.648" />
<line x1="533" y1="258" x2="770.8" y2="258" stroke="#000" stroke-width="1.296" />
<path d="M531.5999999999999,259.7L535.0,256.3" stroke="#000" stroke-width="0.9" fill="none"/>
<line x1="533.3" y1="255.9" x2="533.3" y2="260.1" stroke="#000" stroke-width="1.08" />
<path d="M546.5999999999999,259.7L550.0,256.3" stroke="#000" stroke-width="0.9" fill="none"/>
<line x1="548.3" y1="255.9" x2="548.3" y2="260.1" stroke="#000" stroke-width="1.08" />
<path d="M584.3,259.7L587.7,256.3" stroke="#000" stroke-width="0.9" fill="none"/>
<line x1="586" y1="255.9" x2="586" y2="260.1" stroke="#000" stroke-width="1.08" />
<path d="M642.0,259.7L645.4000000000001,256.3" stroke="#000" stroke-width="0.9" fill="none"/>
<line x1="643.7" y1="255.9" x2="643.7" y2="260.1" stroke="#000" stroke-width="1.08" />
<path d="M699.3,259.7L702.7,256.3" stroke="#000" stroke-width="0.9" fill="none"/>
<line x1="701" y1="255.9" x2="701" y2="260.1" stroke="#000" stroke-width="1.08" />
<path d="M739.5,259.7L742.9000000000001,256.3" stroke="#000" stroke-width="0.9" fill="none"/>
<line x1="741.2" y1="255.9" x2="741.2" y2="260.1" stroke="#000" stroke-width="1.08" />
<path d="M754.6999999999999,259.7L758.1,256.3" stroke="#000" stroke-width="0.9" fill="none"/>
<line x1="756.4" y1="255.9" x2="756.4" y2="260.1" stroke="#000" stroke-width="1.08" />
<text x="530.8" y="255.9" font-size="9.4" text-anchor="middle" font-weight="normal" >15</text>
<text x="545.8" y="255.9" font-size="9.4" text-anchor="middle" font-weight="normal" >17<tspan dy="-3.6" font-size="5.6">5</tspan></text>
<text x="566.6" y="255.9" font-size="9.4" text-anchor="middle" font-weight="normal" >1.02</text>
<text x="615.5" y="255.9" font-size="9.4" text-anchor="middle" font-weight="normal" >1.48<tspan dy="-3.6" font-size="5.6">5</tspan></text>
<text x="673" y="255.9" font-size="9.4" text-anchor="middle" font-weight="normal" >1.48<tspan dy="-3.6" font-size="5.6">5</tspan></text>
<text x="721.5" y="255.9" font-size="9.4" text-anchor="middle" font-weight="normal" >1.02</text>
<text x="760" y="252.5" font-size="9.4" text-anchor="middle" font-weight="normal" >39</text>
<text x="768" y="255.6" font-size="6" text-anchor="start" font-weight="normal" >1</text>
<line x1="529" y1="228.3" x2="553" y2="228.3" stroke="#000" stroke-width="1.08" />
<path d="M531.8,230.0L535.2,226.60000000000002" stroke="#000" stroke-width="0.9" fill="none"/>
<line x1="533.5" y1="226.20000000000002" x2="533.5" y2="230.4" stroke="#000" stroke-width="1.08" />
<path d="M546.5999999999999,230.0L550.0,226.60000000000002" stroke="#000" stroke-width="0.9" fill="none"/>
<line x1="548.3" y1="226.20000000000002" x2="548.3" y2="230.4" stroke="#000" stroke-width="1.08" />
<path d="M549.8,230.0L553.2,226.60000000000002" stroke="#000" stroke-width="0.9" fill="none"/>
<line x1="551.5" y1="226.20000000000002" x2="551.5" y2="230.4" stroke="#000" stroke-width="1.08" />
<text x="526.3" y="224.6" font-size="9.4" text-anchor="middle" font-weight="normal" >15</text>
<line x1="576.6" y1="74.3" x2="576.6" y2="94" stroke="#000" stroke-width="0.972" />
<path d="M575.0,78.1L578.2,74.9" stroke="#000" stroke-width="0.8" fill="none"/>
<line x1="574.6" y1="76.5" x2="578.6" y2="76.5" stroke="#000" stroke-width="0.972" />
<path d="M575.0,84.19999999999999L578.2,81.0" stroke="#000" stroke-width="0.8" fill="none"/>
<line x1="574.6" y1="82.6" x2="578.6" y2="82.6" stroke="#000" stroke-width="0.972" />
<path d="M575.0,90.3L578.2,87.10000000000001" stroke="#000" stroke-width="0.8" fill="none"/>
<line x1="574.6" y1="88.7" x2="578.6" y2="88.7" stroke="#000" stroke-width="0.972" />
<path d="M576.6,94L575.3,90.8H577.9Z" fill="#000"/>
<line x1="576.6" y1="110" x2="576.6" y2="120" stroke="#000" stroke-width="0.972" />
<path d="M575.0,113.6L578.2,110.4" stroke="#000" stroke-width="0.8" fill="none"/>
<line x1="574.6" y1="112" x2="578.6" y2="112" stroke="#000" stroke-width="0.972" />
<path d="M575.0,119.6L578.2,116.4" stroke="#000" stroke-width="0.8" fill="none"/>
<line x1="574.6" y1="118" x2="578.6" y2="118" stroke="#000" stroke-width="0.972" />
<text x="572" y="69.8" font-size="8.5" text-anchor="middle" font-weight="normal" transform="rotate(-90 572 69.8)" >15</text>
<text x="572" y="79.5" font-size="8.5" text-anchor="middle" font-weight="normal" transform="rotate(-90 572 79.5)" >15</text>
<text x="572" y="93.5" font-size="8.5" text-anchor="middle" font-weight="normal" transform="rotate(-90 572 93.5)" >7</text>
<text x="572" y="114.5" font-size="8.5" text-anchor="middle" font-weight="normal" transform="rotate(-90 572 114.5)" >15</text>
<text x="602.8" y="71" font-size="6.75" text-anchor="start" font-weight="normal" >Notüberlauf</text>
<text x="581.7" y="98.2" font-size="5.95" text-anchor="start" font-weight="normal" >Roste auf Stelzlagern</text>
<text x="650" y="107.8" font-size="6.72" text-anchor="start" font-weight="normal" >Brüstung: Stahlbetonfertig-</text>
<text x="650" y="114.95" font-size="6.72" text-anchor="start" font-weight="normal" >teil 150/600mm, UK +5.37.</text>
<text x="650" y="122.1" font-size="6.72" text-anchor="start" font-weight="normal" >Außen 15cm WDVS, innen</text>
<text x="650" y="129.25" font-size="6.72" text-anchor="start" font-weight="normal" >7cm WDVS, im Sokkel-</text>
<text x="650" y="136.4" font-size="6.72" text-anchor="start" font-weight="normal" >bereich 5cm Polystyrol 030</text>
<text x="552.2" y="155.8" font-size="6.72" text-anchor="start" font-weight="normal" >Wandscheibe: Stahlbeton-</text>
<text x="552.2" y="163.05" font-size="6.72" text-anchor="start" font-weight="normal" >fertigteil 150/1850mm, UK</text>
<text x="552.2" y="170.3" font-size="6.72" text-anchor="start" font-weight="normal" >+5.37. Außen 15cm WDVS,</text>
<text x="552.2" y="177.55" font-size="6.72" text-anchor="start" font-weight="normal" >innen 7cm WDVS, im Sok-</text>
<text x="552.2" y="184.8" font-size="6.72" text-anchor="start" font-weight="normal" >kelbereich 5cm Polystyrol 030</text>
<text x="614.5" y="203.3" font-size="9.45" text-anchor="start" font-weight="normal" >Dachterrasse</text>
<text x="602.5" y="271.8" font-size="9.45" text-anchor="start" font-weight="normal" >Elementhöhe : 3.08</text>
<text x="551.7" y="284.5" font-size="5.95" text-anchor="start" font-weight="normal" >Roste auf Stelzlagern</text>
<rect x="535" y="216" width="20" height="9" fill="none"/>
<text x="540.8" y="224.6" font-size="9.4" text-anchor="middle" font-weight="normal" >15</text>
<text x="551.3" y="224.6" font-size="9.4" text-anchor="middle" font-weight="normal" >7</text>
<line x1="643.7" y1="56" x2="643.7" y2="100.8" stroke="#000" stroke-width="1.188" />
<path d="M640.3,67.5L643.7,55.8L647.1,67.5" stroke="#000" stroke-width="1" fill="none"/>
<line x1="654" y1="85" x2="657.2" y2="98.5" stroke="#000" stroke-width="0.864" />
<line x1="588" y1="40" x2="588" y2="97" stroke="#000" stroke-width="1.404" />
<path d="M595.3,38V54.7L608,46.3Z" fill="#000"/>
<path d="M621.7,45.8H612.6L615.4,48.5" stroke="#000" stroke-width="1.5" fill="none" stroke-linejoin="miter"/>
<line x1="588" y1="421.7" x2="588" y2="544.7" stroke="#000" stroke-width="1.404" />
<path d="M595.3,530.5V547.4L608,538.8Z" fill="#000"/>
<path d="M621.5,538.2H612L614.9,540.9" stroke="#000" stroke-width="1.5" fill="none" stroke-linejoin="miter"/>
</g>
<rect x="771.3" y="0" width="430" height="600" fill="#fff"/>
</g>
</svg>
</body></html>
